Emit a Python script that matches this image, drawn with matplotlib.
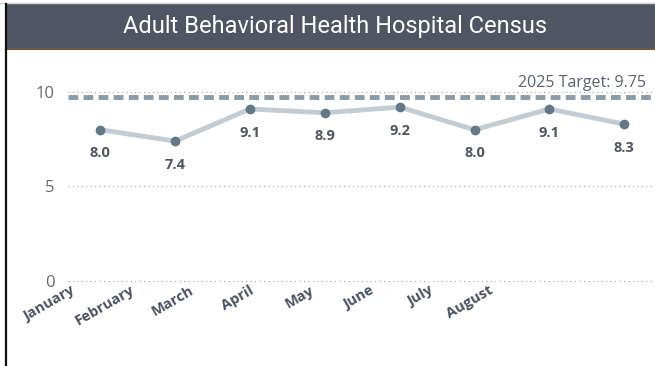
import matplotlib.pyplot as plt
import matplotlib.patches as patches
from matplotlib.lines import Line2D

months = ["January", "February", "March", "April", "May", "June", "July", "August"]
census = [8.0, 7.4, 9.1, 8.9, 9.2, 8.0, 9.1, 8.3]
target = 9.75
yticks = [0, 5, 10]

W, H = 655, 366
fig = plt.figure(figsize=(W / 100, H / 100), dpi=100)
fig.patch.set_facecolor("white")

# header banner
fig.patches.append(patches.Rectangle((6 / W, 1 - 48 / H), 1, 44 / H, transform=fig.transFigure,
                                     facecolor="#4f5562", edgecolor="none", zorder=0))
fig.lines.append(Line2D([6 / W, 1], [1 - 48.5 / H, 1 - 48.5 / H], transform=fig.transFigure,
                        color="#6e5848", lw=1.5))
fig.lines.append(Line2D([0, 1], [1 - 3 / H, 1 - 3 / H], transform=fig.transFigure,
                        color="#cfcfcf", lw=1))
fig.lines.append(Line2D([5.5 / W, 5.5 / W], [0, 1 - 4 / H], transform=fig.transFigure,
                        color="#111111", lw=1.6))
fig.text(335 / W, 1 - 27 / H, "Adult Behavioral Health Hospital Census", ha="center", va="center",
         color="white", fontsize=17, family="Roboto")

# plot area
ax = fig.add_axes([68 / W, 1 - 281 / H, 1 - 68 / W, (281 - 63.6) / H])
x = list(range(len(months)))
ax.set_xlim(-0.43, 7.41)
ax.set_ylim(0, 11.5)
for s in ax.spines.values():
    s.set_visible(False)

for t in yticks:
    ax.axhline(t, color="#9aa0a6", lw=0.8, ls=(0, (1, 3)), zorder=1, clip_on=False)
ax.set_yticks(yticks)
ax.tick_params(axis="y", length=0, pad=9.5, labelsize=12, labelcolor="#646870")
for lab in ax.get_yticklabels():
    lab.set_family("Open Sans")

ax.axhline(target, color="#8a9aa6", lw=3.5, ls=(0, (2, 1.1)), zorder=2)
ax.text(7.29, target + 0.3, f"2025 Target: {target}", ha="right", va="bottom",
        fontsize=11.5, color="#5a6270", family="Open Sans")

ax.plot(x, census, color="#c3ccd3", lw=3.5, zorder=3, solid_capstyle="round")
ax.plot(x, census, "o", color="#627886", ms=6, zorder=4)
for xi, v in zip(x, census):
    ax.annotate(f"{v:.1f}", (xi, v), xytext=(0, -12), textcoords="offset points",
                ha="center", va="top", fontsize=10.5, fontweight="bold", color="#4f5560",
                family="Open Sans")

# category labels sit on their own tighter axis
ax.set_xticks([])
lab_ax = ax.twiny()
lab_ax.set_xlim(-0.034, 9.78)
lab_ax.xaxis.set_ticks_position("bottom")
lab_ax.xaxis.set_label_position("bottom")
for s in lab_ax.spines.values():
    s.set_visible(False)
lab_ax.set_xticks(x)
lab_ax.set_xticklabels(months, rotation=30, ha="right", rotation_mode="anchor",
                       fontsize=10.5, fontweight="bold", color="#4a5262", family="Open Sans")
lab_ax.tick_params(axis="x", length=0, pad=1.5)

fig.savefig("out.png", dpi=100)
